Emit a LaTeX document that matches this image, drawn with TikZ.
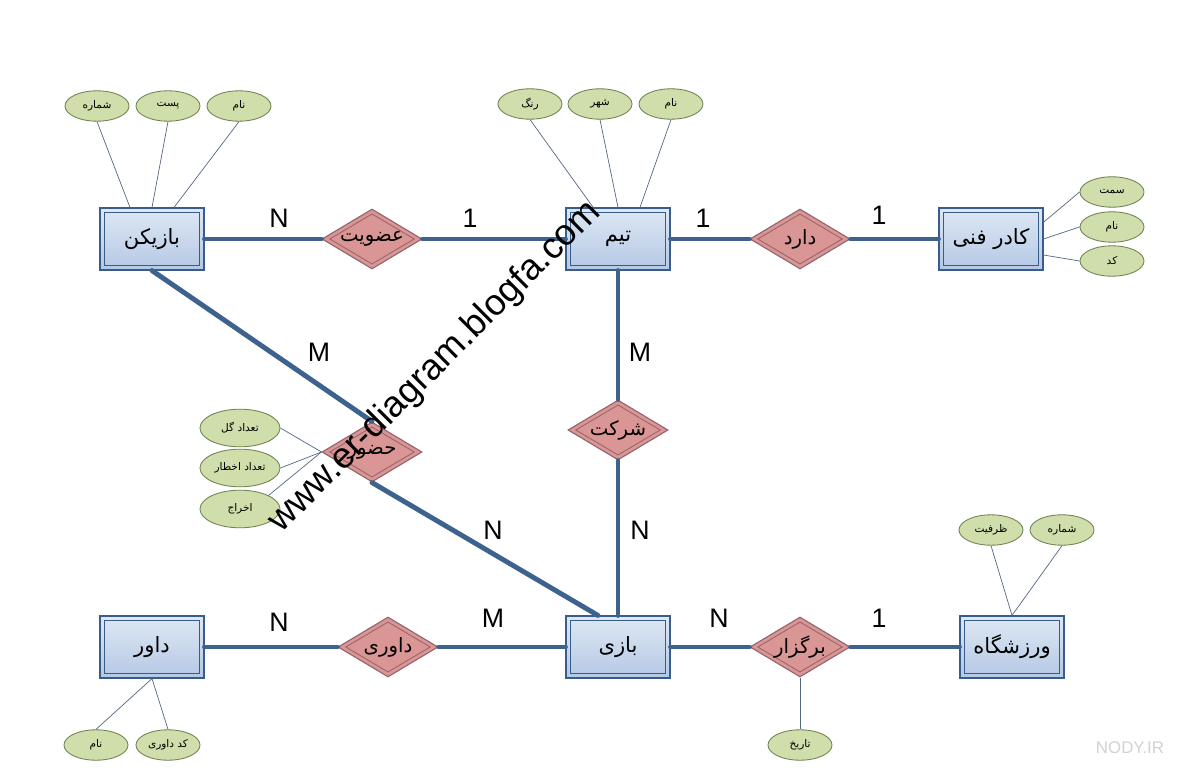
\documentclass[tikz,border=0pt]{standalone}
\usepackage{fontspec}
\setmainfont{Liberation Sans}
\newfontfamily\farsi[Script=Arabic]{DejaVu Sans}
\TeXXeTstate=1
\usetikzlibrary{shapes.geometric}
\definecolor{entline}{RGB}{56,93,138}
\definecolor{enttop}{RGB}{222,232,244}
\definecolor{entbot}{RGB}{180,200,228}
\definecolor{relfill}{RGB}{217,150,148}
\definecolor{relline}{RGB}{150,100,108}
\definecolor{attfill}{RGB}{207,222,170}
\definecolor{attline}{RGB}{110,130,82}
\definecolor{linkblue}{RGB}{62,98,142}
\definecolor{thinline}{RGB}{84,104,130}
\newcommand{\fa}[1]{{\farsi\beginR #1\endR}}

\begin{document}
\begin{tikzpicture}[x=0.025cm, y=-0.025cm,
        entity/.style={draw=entline, line width=0.8pt, top color=enttop, bottom color=entbot, minimum width=2.6cm, minimum height=1.55cm, inner sep=0pt, font=\fontsize{15}{17}\selectfont,
          path picture={\draw[entline, line width=0.6pt] ([shift={(0.12cm,0.12cm)}]path picture bounding box.south west) rectangle ([shift={(-0.12cm,-0.12cm)}]path picture bounding box.north east);}},
        relation/.style={diamond, aspect=1.6, draw=relline, fill=relfill, line width=0.8pt, minimum width=2.5cm, minimum height=1.5cm, inner sep=0pt, font=\fontsize{14}{16}\selectfont,
          path picture={\draw[relline, line width=0.6pt] ([xshift=0.19cm]path picture bounding box.west) -- ([yshift=-0.12cm]path picture bounding box.north) -- ([xshift=-0.19cm]path picture bounding box.east) -- ([yshift=0.12cm]path picture bounding box.south) -- cycle;}},
        attr/.style={ellipse, draw=attline, fill=attfill, line width=0.6pt, minimum width=1.6cm, minimum height=0.76cm, inner sep=0pt, font=\fontsize{7.5}{9}\selectfont},
        bigattr/.style={attr, minimum width=2cm, minimum height=0.94cm},
        link/.style={linkblue, line width=3.5pt, line cap=round},
        attlink/.style={thinline, line width=0.5pt},
        card/.style={font=\fontsize{19}{22}\selectfont}
      ]
        \useasboundingbox[fill=white] (0,0) rectangle (1188,780);

        \node[entity] (player) at (152,239) {\fa{بازیکن}};
        \node[entity] (team) at (618,239) {\fa{تیم}};
        \node[entity] (staff) at (991,239) {\fa{کادر فنی}};
        \node[entity] (referee) at (152,647) {\fa{داور}};
        \node[entity] (game) at (618,647) {\fa{بازی}};
        \node[entity] (stadium) at (1012,647) {\fa{ورزشگاه}};

        \node[relation] (member) at (372,239) {\fa{عضویت}};
        \node[relation] (has) at (800,239) {\fa{دارد}};
        \node[relation] (part) at (618,430) {\fa{شرکت}};
        \node[relation] (presence) at (372,452) {\fa{حضور}};
        \node[relation] (judge) at (388,647) {\fa{داوری}};
        \node[relation] (held) at (800,647) {\fa{برگزار}};

        \node[attr] (p1) at (97,106) {\fa{شماره}};
        \node[attr] (p2) at (168,106) {\fa{پست}};
        \node[attr] (p3) at (239,106) {\fa{نام}};
        \node[attr] (t1) at (530,104) {\fa{رنگ}};
        \node[attr] (t2) at (600,104) {\fa{شهر}};
        \node[attr] (t3) at (671,104) {\fa{نام}};
        \node[attr] (s1) at (1112,192) {\fa{سمت}};
        \node[attr] (s2) at (1112,227) {\fa{نام}};
        \node[attr] (s3) at (1112,261) {\fa{کد}};
        \node[bigattr] (h1) at (240,428) {\fa{تعداد گل}};
        \node[bigattr] (h2) at (240,468) {\fa{تعداد اخطار}};
        \node[bigattr] (h3) at (240,509) {\fa{اخراج}};
        \node[attr] (r1) at (96,745) {\fa{نام}};
        \node[attr] (r2) at (168,745) {\fa{کد داوری}};
        \node[attr] (d1) at (800,745) {\fa{تاریخ}};
        \node[attr] (z1) at (991,530) {\fa{ظرفیت}};
        \node[attr] (z2) at (1062,530) {\fa{شماره}};

        \draw[attlink] (p1.south) -- ([xshift=-0.55cm]player.north);
        \draw[attlink] (p2.south) -- (player.north);
        \draw[attlink] (p3.south) -- ([xshift=0.55cm]player.north);
        \draw[attlink] (t1.south) -- ([xshift=-0.62cm]team.north);
        \draw[attlink] (t2.south) -- (team.north);
        \draw[attlink] (t3.south) -- ([xshift=0.55cm]team.north);
        \draw[attlink] ([yshift=0.42cm]staff.east) -- (s1.west);
        \draw[attlink] (staff.east) -- (s2.west);
        \draw[attlink] ([yshift=-0.4cm]staff.east) -- (s3.west);
        \draw[attlink] (h1.east) -- (presence.west);
        \draw[attlink] (h2.east) -- (presence.west);
        \draw[attlink] (h3.north east) -- (presence.west);
        \draw[attlink] (referee.south) -- (r1.north);
        \draw[attlink] (referee.south) -- (r2.north);
        \draw[attlink] (held.south) -- (d1.north);
        \draw[attlink] (stadium.north) -- (z1.south);
        \draw[attlink] (stadium.north) -- (z2.south);

        \draw[link] (player.east) -- (member.west);
        \draw[link] (member.east) -- (team.west);
        \draw[link] (team.east) -- (has.west);
        \draw[link] (has.east) -- (staff.west);
        \draw[link] (team.south) -- (part.north);
        \draw[link] (part.south) -- (game.north);
        \draw[link] (player.south) -- (presence.north);
        \draw[link] (presence.south) -- ([xshift=-0.5cm]game.north);
        \draw[link] (referee.east) -- (judge.west);
        \draw[link] (judge.east) -- (game.west);
        \draw[link] (game.east) -- (held.west);
        \draw[link] (held.east) -- (stadium.west);

        \node[card] (c1) at (279,218) {N};
        \node[card] (c2) at (470,218) {1};
        \node[card] (c3) at (703,218) {1};
        \node[card] (c4) at (879,215) {1};
        \node[card] (c5) at (319,352) {M};
        \node[card] (c6) at (640,352) {M};
        \node[card] (c7) at (640,530) {N};
        \node[card] (c8) at (493,530) {N};
        \node[card] (c9) at (279,622) {N};
        \node[card] (c10) at (493,618) {M};
        \node[card] (c11) at (719,618) {N};
        \node[card] (c12) at (879,618) {1};

        \node[rotate=45, font=\fontsize{26}{30}\selectfont] (mark) at (435,367) {www.er-diagram.blogfa.com};
        \node[gray!35, font=\fontsize{12}{14}\selectfont] (nody) at (1130,748) {NODY.IR};
      \end{tikzpicture}
\end{document}
